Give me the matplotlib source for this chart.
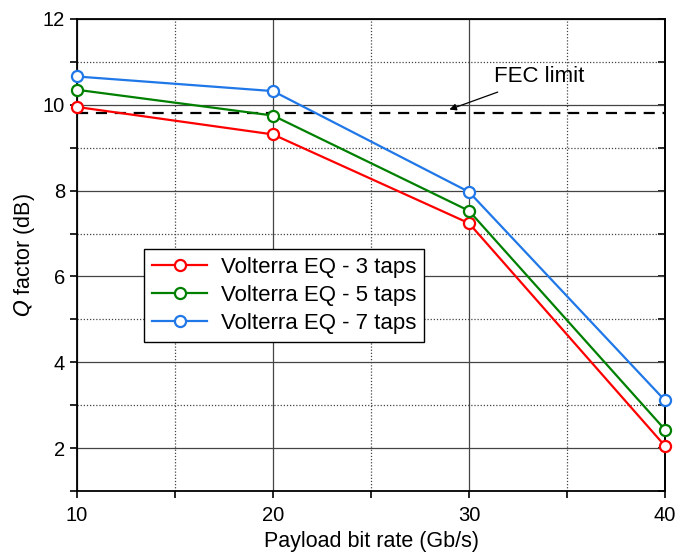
import matplotlib.pyplot as plt
from matplotlib.ticker import MultipleLocator

plt.rcParams['font.family'] = ['Liberation Sans', 'DejaVu Sans']

bit_rate = [10, 20, 30, 40]
q_3taps = [9.95, 9.31, 7.24, 2.05]
q_5taps = [10.35, 9.75, 7.53, 2.43]
q_7taps = [10.66, 10.32, 7.97, 3.11]
fec_limit = 9.81

series = [
    ('Volterra EQ - 3 taps', q_3taps, '#ff0000'),
    ('Volterra EQ - 5 taps', q_5taps, '#008000'),
    ('Volterra EQ - 7 taps', q_7taps, '#1f77e8'),
]

fig = plt.figure(figsize=(6.76, 5.55), dpi=100)
ax = fig.add_axes([77 / 676, 1 - 491 / 555, 588 / 676, 472 / 555])

for label, vals, col in series:
    ax.plot(bit_rate, vals, color=col, lw=1.6, marker='o', ms=8,
            mfc='white', mec=col, mew=1.6, label=label, clip_on=False, zorder=4)

ax.axhline(fec_limit, color='black', lw=1.6, ls=(0, (5, 3.5)), zorder=3)
ax.annotate('FEC limit', xy=(29.0, fec_limit + 0.08), xytext=(31.3, 10.65),
            fontsize=16, va='center', ha='left',
            arrowprops=dict(arrowstyle='-|>', color='black', lw=0.9,
                            mutation_scale=10, shrinkA=4, shrinkB=0))

ax.set_xlim(10, 40)
ax.set_ylim(1, 12)
ax.xaxis.set_major_locator(MultipleLocator(10))
ax.xaxis.set_minor_locator(MultipleLocator(5))
ax.yaxis.set_minor_locator(MultipleLocator(1))
ax.set_yticks([2, 4, 6, 8, 10, 12])

ax.grid(which='major', color='#444444', lw=0.9, ls='-')
ax.grid(which='minor', color='#444444', lw=0.9, ls=(0, (1, 1.5)))
ax.set_axisbelow(True)

ax.tick_params(which='both', direction='out', length=5, width=1.2, labelsize=14.5)
ax.tick_params(axis='x', pad=6)
ax.tick_params(which='both', right=False, top=False)
for sp in ax.spines.values():
    sp.set_linewidth(1.3)

# right side ticks point inward
sec = ax.secondary_yaxis('right')
sec.set_yticks([2, 4, 6, 8, 10, 12])
sec.yaxis.set_minor_locator(MultipleLocator(1))
sec.tick_params(which='both', direction='in', length=5, width=1.2, labelright=False)
sec.spines['right'].set_linewidth(1.3)

ax.set_xlabel('Payload bit rate (Gb/s)', fontsize=15.5, labelpad=4)
ax.set_ylabel('$\\it{Q}$ factor (dB)', fontsize=15.5, labelpad=4)

leg = ax.legend(loc='upper left', bbox_to_anchor=(67 / 588, (491 - 249) / 472),
                fontsize=16, frameon=True, fancybox=False, edgecolor='black',
                framealpha=1, handlelength=2.5, borderpad=0.35, borderaxespad=0,
                labelspacing=0.32, handletextpad=0.6)
leg.get_frame().set_linewidth(1.0)

fig.savefig('out.png', dpi=100)
